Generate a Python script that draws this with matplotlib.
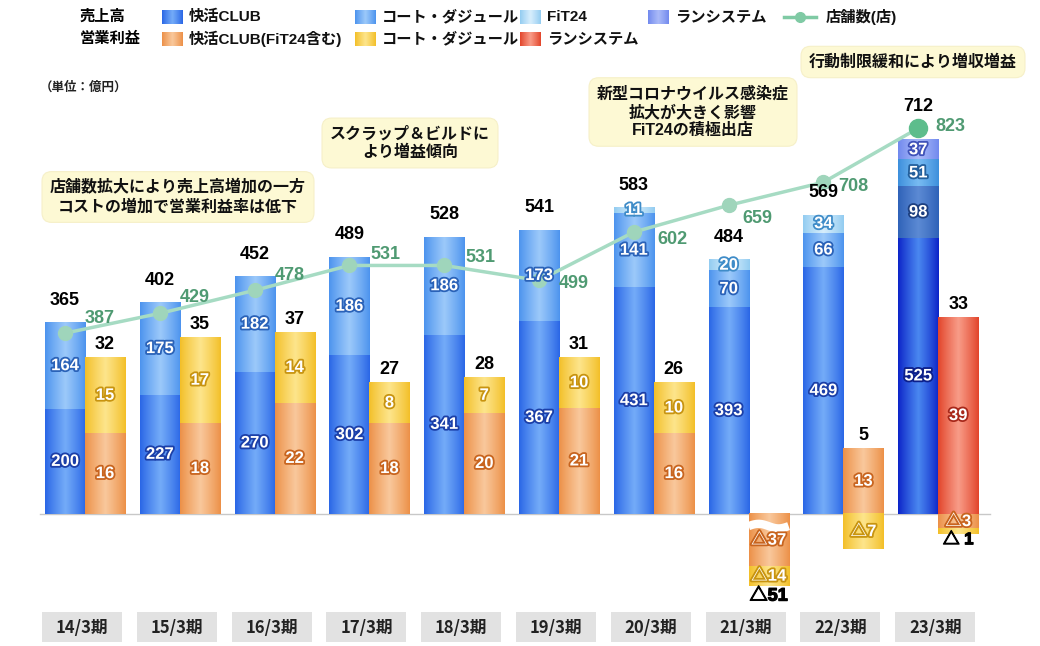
import numpy as np
import matplotlib.pyplot as plt
import matplotlib.colors as mcolors
import matplotlib.patheffects as pe
from matplotlib.patches import Rectangle

plt.rcParams['font.family'] = ['Liberation Sans', 'Noto Sans CJK JP']

# ---------------------------------------------------------
# DATOS (億円 / 店)
# ---------------------------------------------------------
periodos = ["14/3期", "15/3期", "16/3期", "17/3期", "18/3期",
            "19/3期", "20/3期", "21/3期", "22/3期", "23/3期"]

venta_kaikatsu = [200, 227, 270, 302, 341, 367, 431, 393, 469, 525]
venta_cote = [164, 175, 182, 186, 186, 173, 141, 70, 66, 98]
venta_fit24 = [0, 0, 0, 0, 0, 0, 11, 20, 34, 51]
venta_runsystem = [0, 0, 0, 0, 0, 0, 0, 0, 0, 37]
venta_total = [365, 402, 452, 489, 528, 541, 583, 484, 569, 712]

benef_kaikatsu = [16, 18, 22, 18, 20, 21, 16, -37, 13, -3]
benef_cote = [15, 17, 14, 8, 7, 10, 10, -14, -7, -1]
benef_runsystem = [0, 0, 0, 0, 0, 0, 0, 0, 0, 39]
benef_total = [32, 35, 37, 27, 28, 31, 26, -51, 5, 33]

tiendas = [387, 429, 478, 531, 531, 499, 602, 659, 708, 823]

# 21/3期 の赤字は省略表示（波線）
idx_corte = 7
factor_corte = 0.28

# ---------------------------------------------------------
# ESTILOS
# ---------------------------------------------------------
col_venta = {
    "kaikatsu": ("#2a66e6", "#74acf8", "#1b3fa8"),
    "cote": ("#4c93ee", "#9cc9fa", "#2a62b8"),
    "fit24": ("#92ccf1", "#d8eefc", "#3f8cc8"),
    "runsystem": ("#7189ee", "#aabaf8", "#3f52b8"),
}
col_venta_23 = {
    "kaikatsu": ("#0c24c8", "#4a88f0", "#0c1f8a"),
    "cote": ("#2f62b8", "#5c8ad4", "#1d3f80"),
    "fit24": ("#3d8fdc", "#78bbf2", "#235f9c"),
    "runsystem": ("#7189ee", "#aabaf8", "#3f52b8"),
}
col_benef = {
    "kaikatsu": ("#ec9047", "#f9c89c", "#c8641e"),
    "cote": ("#f3bf28", "#fde58c", "#c89410"),
    "runsystem": ("#e2442a", "#f89c88", "#a8281a"),
}

verde_linea = "#a6dbc3"
verde_texto = "#4f9a72"
FIG_W, FIG_H = 1040, 646
negrita = [pe.withStroke(linewidth=0.9, foreground='black')]


def degradado(ax, rect, c_borde, c_centro, z=2):
    x0, y0 = rect.get_x(), rect.get_y()
    w, h = rect.get_width(), rect.get_height()
    if h == 0:
        return
    t = np.linspace(-1, 1, 64)
    peso = (1 - np.abs(t)) ** 0.9
    a = np.array(mcolors.to_rgb(c_borde))
    b = np.array(mcolors.to_rgb(c_centro))
    img = a[None, :] * (1 - peso[:, None]) + b[None, :] * peso[:, None]
    ax.imshow(img[None, :, :], extent=(x0, x0 + w, y0, y0 + h),
              aspect='auto', zorder=z, interpolation='bilinear')


def etiqueta(ax_txt, trans, x, y, texto, contorno, size=12):
    ax_txt.text(x, y, texto, transform=trans, ha='center', va='center',
                fontsize=size, fontweight='bold', color='white', zorder=10,
                path_effects=[pe.withStroke(linewidth=2.6, foreground=contorno)])


# ---------------------------------------------------------
# FIGURA
# ---------------------------------------------------------
fig = plt.figure(figsize=(10.4, 6.46), dpi=100)

ax = fig.add_axes([0, 0, 1, 1])          # 売上高
ax_p = ax.twinx()                         # 営業利益
ax_s = ax.twinx()                         # 店舗数
ax_px = fig.add_axes([0, 0, 1, 1])        # capa en píxeles (textos, leyenda)

x = np.arange(len(periodos))
ancho = 0.422
x_venta = x - ancho / 2
x_benef = x + ancho / 2

# --- 売上高 ---
capas_venta = [("kaikatsu", venta_kaikatsu), ("cote", venta_cote),
               ("fit24", venta_fit24), ("runsystem", venta_runsystem)]
base = np.zeros(len(x))
for nombre, valores in capas_venta:
    valores = np.array(valores, dtype=float)
    barras = ax.bar(x_venta, valores, ancho, bottom=base, color=col_venta[nombre][0],
                    linewidth=0, zorder=1)
    for i, rect in enumerate(barras):
        if valores[i] == 0:
            continue
        paleta = col_venta_23 if i == len(x) - 1 else col_venta
        c_b, c_c, c_t = paleta[nombre]
        degradado(ax, rect, c_b, c_c)
        etiqueta(ax_s, ax.transData, x_venta[i], base[i] + valores[i] / 2,
                 str(int(valores[i])), c_t)
    base = base + valores

desp_total = [22] * 9 + [33]
for i, v in enumerate(venta_total):
    ax_s.annotate(str(v), (x_venta[i], v), xycoords=ax.transData,
                  xytext=(0, desp_total[i] * 0.72), textcoords='offset points',
                  ha='center', va='center', fontsize=13, fontweight='bold',
                  color='black', zorder=10)

# --- 営業利益 ---
capas_benef = [("kaikatsu", benef_kaikatsu), ("cote", benef_cote),
               ("runsystem", benef_runsystem)]
base_pos = np.zeros(len(x))
base_neg = np.zeros(len(x))
for nombre, valores in capas_benef:
    valores = np.array(valores, dtype=float)
    dibujo = valores.copy()
    dibujo[idx_corte] = valores[idx_corte] * factor_corte
    bases = np.where(dibujo >= 0, base_pos, base_neg)
    barras = ax_p.bar(x_benef, dibujo, ancho, bottom=bases, color=col_benef[nombre][0],
                      linewidth=0, zorder=1)
    c_b, c_c, c_t = col_benef[nombre]
    for i, rect in enumerate(barras):
        if valores[i] == 0:
            continue
        degradado(ax_p, rect, c_b, c_c)
        texto = str(int(valores[i])) if valores[i] > 0 else "△" + str(int(-valores[i]))
        if abs(dibujo[i]) >= 2:
            etiqueta(ax_s, ax_p.transData, x_benef[i], bases[i] + dibujo[i] / 2,
                     texto, c_t)
        else:
            ax_s.annotate("△ " + str(int(-valores[i])), (x_benef[i], bases[i] + dibujo[i]),
                          xycoords=ax_p.transData, xytext=(0, -4), textcoords='offset points',
                          ha='center', va='center', fontsize=12, fontweight='bold',
                          color='black', zorder=10, path_effects=negrita)
    base_pos = base_pos + np.where(dibujo > 0, dibujo, 0)
    base_neg = base_neg + np.where(dibujo < 0, dibujo, 0)

for i, v in enumerate(benef_total):
    if v >= 0:
        ax_s.annotate(str(v), (x_benef[i], base_pos[i]), xycoords=ax_p.transData,
                      xytext=(0, 13 * 0.72), textcoords='offset points',
                      ha='center', va='center', fontsize=13, fontweight='bold',
                      color='black', zorder=10)
    else:
        ax_s.annotate("△" + str(-v), (x_benef[i], base_neg[i]), xycoords=ax_p.transData,
                      xytext=(0, -10 * 0.72), textcoords='offset points',
                      ha='center', va='center', fontsize=13, fontweight='bold',
                      color='black', zorder=10, path_effects=negrita)

# 波線（省略）
xs = np.linspace(x_benef[idx_corte] - ancho / 2, x_benef[idx_corte] + ancho / 2, 60)
ax_p.plot(xs, -2.4 + 0.45 * np.sin((xs - xs[0]) / (xs[-1] - xs[0]) * 2 * np.pi),
          color='white', lw=6, zorder=5, solid_capstyle='butt')

# --- 店舗数 ---
ax_s.plot(x_venta, tiendas, color=verde_linea, lw=2.5, zorder=6)
ax_s.plot(x_venta[:-1], tiendas[:-1], 'o', ms=10, color="#9fd5bb", zorder=7)
ax_s.plot(x_venta[-1], tiendas[-1], 'o', ms=13, color="#5dbd8c", zorder=7)

desp_tiendas = [(35, -15), (35, -16), (35, -15), (36, -11), (36, -8),
                (35, 3), (39, 7), (29, 13), (30, 4), (32, -2)]
for i, v in enumerate(tiendas):
    dx, dy = desp_tiendas[i]
    ax_s.annotate(str(v), (x_venta[i], v), xytext=(dx * 0.72, -dy * 0.72),
                  textcoords='offset points', ha='center', va='center',
                  fontsize=13, fontweight='bold', color=verde_texto, zorder=10)

# línea base
ax.axhline(0, xmin=40 / FIG_W, xmax=990 / FIG_W, color='#c8c8c8', lw=1, zorder=0)

# escalas
ax.set_xlim(-0.8966, 10.0739)
ax.set_ylim(-250.95, 977.2)
ax_p.set_ylim(-26.14, 101.78)
ax_s.set_ylim(-278.7, 1095.8)
for a in (ax, ax_p, ax_s):
    a.axis('off')

# ---------------------------------------------------------
# CAPA EN PÍXELES
# ---------------------------------------------------------
ax_px.set_xlim(0, FIG_W)
ax_px.set_ylim(FIG_H, 0)
ax_px.axis('off')

# etiquetas de periodo
for i, p in enumerate(periodos):
    cx = 82 + 94.8 * i
    ax_px.add_patch(Rectangle((cx - 40, 612), 80, 30, facecolor='#e2e2e2',
                              edgecolor='none', zorder=1))
    ax_px.text(cx, 628, p, ha='center', va='center', fontsize=12,
               fontweight='bold', color='#222222', zorder=2,
               family=['Liberation Sans Narrow', 'Noto Sans CJK JP'])

# notas
notas = [
    (178, 197, "店舗数拡大により売上高増加の一方\nコストの増加で営業利益率は低下"),
    (410, 143, "スクラップ＆ビルドに\nより増益傾向"),
    (693, 112, "新型コロナウイルス感染症\n拡大が大きく影響\nFiT24の積極出店"),
    (913, 62, "行動制限緩和により増収増益"),
]
for nx, ny, txt in notas:
    ax_px.text(nx, ny, txt, ha='center', va='center', fontsize=11.5,
               fontweight='bold', color='#111111', linespacing=1.25, zorder=3,
               bbox=dict(boxstyle='round,pad=0.5,rounding_size=0.6',
                         facecolor='#fdf9d4', edgecolor='#f6f0c8', lw=0.8))

ax_px.text(40, 88, "（単位：億円）", ha='left', va='center', fontsize=9,
           fontweight='bold', color='#222222')

# leyenda
ax_px.text(80, 17, "売上高", ha='left', va='center', fontsize=11, fontweight='bold')
ax_px.text(80, 39, "営業利益", ha='left', va='center', fontsize=11, fontweight='bold')

leyenda = [
    (162, 17, col_venta["kaikatsu"], "快活CLUB"),
    (355, 17, col_venta["cote"], "コート・ダジュール"),
    (520, 17, col_venta["fit24"], "FiT24"),
    (648, 17, col_venta["runsystem"], "ランシステム"),
    (162, 39, col_benef["kaikatsu"], "快活CLUB(FiT24含む)"),
    (355, 39, col_benef["cote"], "コート・ダジュール"),
    (520, 39, col_benef["runsystem"], "ランシステム"),
]
for lx, ly, col, txt in leyenda:
    r = Rectangle((lx, ly - 7), 21, 14, facecolor=col[0], edgecolor='none', zorder=1)
    ax_px.add_patch(r)
    degradado(ax_px, r, col[0], col[1])
    ax_px.text(lx + 27, ly, txt, ha='left', va='center', fontsize=11,
               fontweight='bold', color='#111111')

ax_px.plot([784, 816], [17, 17], color="#7fcaa4", lw=2.5)
ax_px.plot(800, 17, 'o', ms=7, color="#7fcaa4")
ax_px.text(826, 17, "店舗数(店)", ha='left', va='center', fontsize=11,
           fontweight='bold', color='#111111')

ax_px.set_xlim(0, FIG_W)
ax_px.set_ylim(FIG_H, 0)

plt.savefig("out.png", dpi=100)
